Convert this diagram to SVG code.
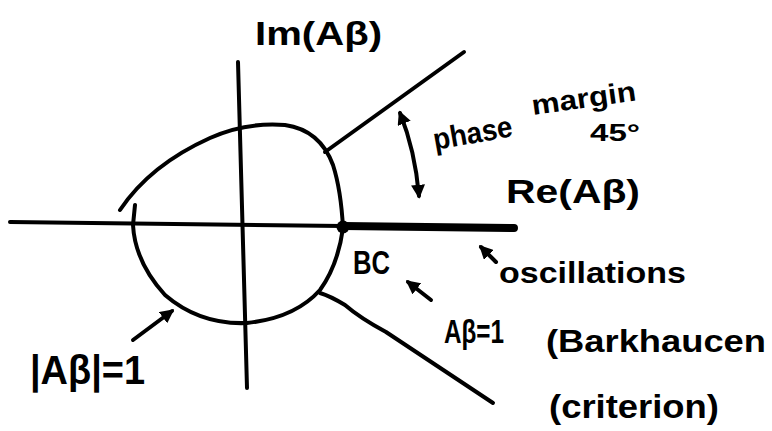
<svg xmlns="http://www.w3.org/2000/svg" width="772" height="431" viewBox="0 0 772 431">
<style>
.ln{fill:none;stroke:#000;stroke-width:4;stroke-linecap:round;stroke-linejoin:round}
.t{font-family:"Liberation Sans","DejaVu Sans",sans-serif;font-weight:bold;fill:#000}
</style>
<defs>
<marker id="ah" viewBox="0 0 10 10" refX="8" refY="5" markerWidth="14" markerHeight="14" markerUnits="userSpaceOnUse" orient="auto-start-reverse">
<path d="M0,0 L10,5 L0,10 z" fill="#000"/>
</marker>
</defs>
<rect width="772" height="431" fill="#fff"/>
<g id="axes">
<path class="ln" d="M10,222 L343,226"/>
<path d="M343,226 L514,228" fill="none" stroke="#000" stroke-width="8" stroke-linecap="round"/>
<path class="ln" d="M238,62 L247,388"/>
</g>
<g id="unit-circle">
<path class="ln" d="M120,210 Q150,165 210,138 Q245,122 285,125 Q320,130 333,165 Q341,190 343,228"/>
<path class="ln" d="M135,205 L133,225 Q135,262 165,295 Q200,325 247,323 Q295,318 320,290 Q338,265 343,228"/>
<circle cx="343" cy="227" r="6.5" fill="#000"/>
</g>
<g id="connectors">
<path class="ln" d="M325,152 L464,52"/>
<path class="ln" d="M320,293 Q330,296 345,305 Q360,318 386,332 L493,403"/>
<path class="ln" d="M400,113 Q415,150 419,196" marker-start="url(#ah)" marker-end="url(#ah)"/>
<path class="ln" d="M133,340 L172,311" marker-end="url(#ah)"/>
<path class="ln" d="M431,300 L408,282" marker-end="url(#ah)"/>
<path class="ln" d="M496,262 L481,247" marker-end="url(#ah)"/>
</g>
<g id="labels">
<text class="t" x="255" y="45" font-size="34" textLength="127" lengthAdjust="spacingAndGlyphs">Im(Aβ)</text>
<text class="t" x="435" y="150" font-size="30" textLength="80" lengthAdjust="spacingAndGlyphs" transform="rotate(-10 435 150)">phase</text>
<text class="t" x="533" y="115" font-size="28" textLength="105" lengthAdjust="spacingAndGlyphs" transform="rotate(-8 533 115)">margin</text>
<text class="t" x="590" y="141" font-size="24" textLength="50" lengthAdjust="spacingAndGlyphs">45°</text>
<text class="t" x="506" y="203" font-size="34" textLength="134" lengthAdjust="spacingAndGlyphs">Re(Aβ)</text>
<text class="t" x="353" y="274" font-size="34" textLength="37" lengthAdjust="spacingAndGlyphs">BC</text>
<text class="t" x="499" y="283" font-size="30" textLength="187" lengthAdjust="spacingAndGlyphs">oscillations</text>
<text class="t" x="444" y="343" font-size="34" textLength="60" lengthAdjust="spacingAndGlyphs">Aβ=1</text>
<text class="t" x="546" y="352" font-size="32" textLength="220" lengthAdjust="spacingAndGlyphs">(Barkhaucen</text>
<text class="t" x="549" y="418" font-size="34" textLength="170" lengthAdjust="spacingAndGlyphs">(criterion)</text>
<text class="t" x="30" y="384" font-size="40" textLength="115" lengthAdjust="spacingAndGlyphs">|Aβ|=1</text>
</g>
</svg>
